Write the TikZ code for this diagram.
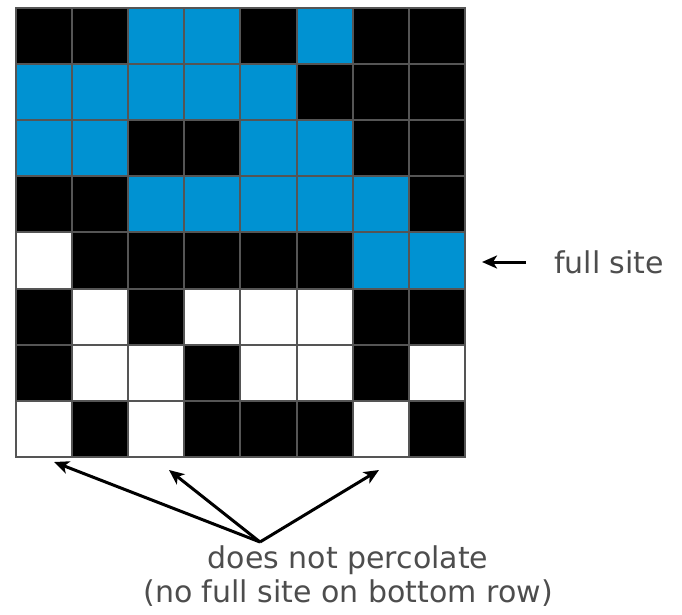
\documentclass[tikz,border=0pt]{standalone}
\usepackage{fontspec}
\setmainfont{DejaVu Sans}
\usetikzlibrary{arrows.meta}
\definecolor{sitefull}{RGB}{0,146,210}
\definecolor{gridline}{RGB}{85,85,85}
\definecolor{labelgray}{RGB}{77,77,77}
\tikzset{
  cell/.style={draw=gridline, line width=2pt, minimum size=56.1pt, inner sep=0pt, outer sep=0pt},
  blocked/.style={fill=black},
  fullsite/.style={fill=sitefull},
  opensite/.style={fill=white},
  pointer/.style={line width=3pt, -{Stealth[length=15pt,width=13pt,inset=4pt]}},
  label/.style={text=labelgray, font=\fontsize{30}{34}\selectfont, inner sep=0pt}
}
\begin{document}
\begin{tikzpicture}[x=1pt,y=-1pt]
\useasboundingbox (0,0) rectangle (682,615);

% 8x8 grid of sites
\foreach \r/\rowcells in {
  0/{blocked,blocked,fullsite,fullsite,blocked,fullsite,blocked,blocked},
  1/{fullsite,fullsite,fullsite,fullsite,fullsite,blocked,blocked,blocked},
  2/{fullsite,fullsite,blocked,blocked,fullsite,fullsite,blocked,blocked},
  3/{blocked,blocked,fullsite,fullsite,fullsite,fullsite,fullsite,blocked},
  4/{opensite,blocked,blocked,blocked,blocked,blocked,fullsite,fullsite},
  5/{blocked,opensite,blocked,opensite,opensite,opensite,blocked,blocked},
  6/{blocked,opensite,opensite,blocked,opensite,opensite,blocked,opensite},
  7/{opensite,blocked,opensite,blocked,blocked,blocked,opensite,blocked}}
  \foreach \s [count=\c from 0] in \rowcells
    \node[cell,\s] (c-\r-\c) at (44.05+56.1*\c, 36.05+56.1*\r) {};

\node[label, anchor=west] (full) at (554,262) {full site};
\node[label, align=center] (perc) at (348,576) {does not percolate\\(no full site on bottom row)};

\coordinate (fulltip) at (482,262);
\coordinate (apex) at (260,542);
\coordinate (tipa) at (54,462);
\coordinate (tipb) at (169,470);
\coordinate (tipc) at (379,470);

\draw[pointer] (full.west) ++(-28,0) -- (fulltip);
\draw[pointer] (apex) -- (tipa);
\draw[pointer] (apex) -- (tipb);
\draw[pointer] (apex) -- (tipc);

\end{tikzpicture}
\end{document}
